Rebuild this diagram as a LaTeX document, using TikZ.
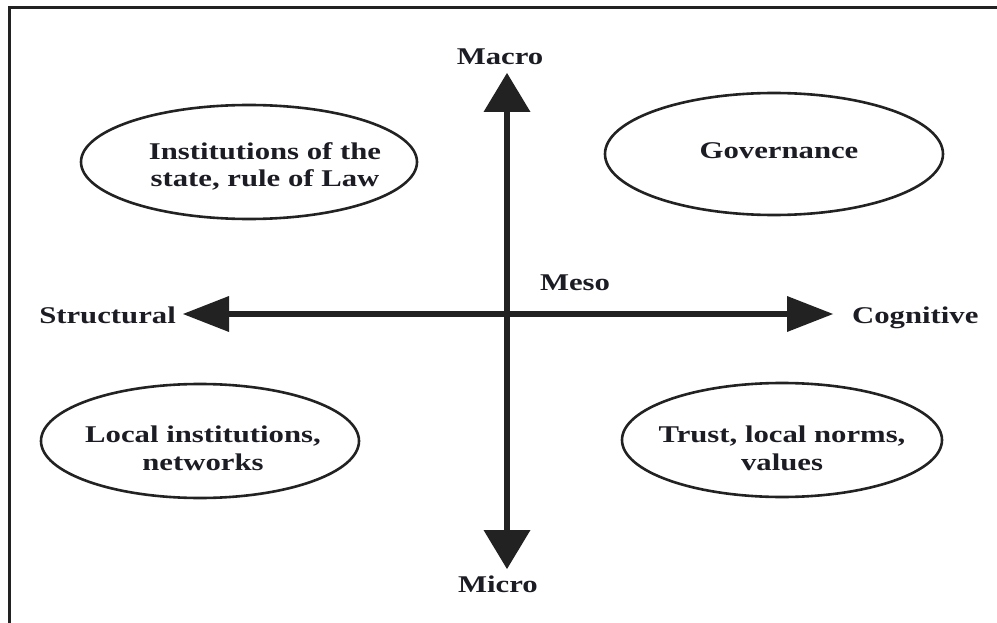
\documentclass[tikz,border=0pt]{standalone}
\usepackage{fontspec}
\setmainfont{Liberation Serif}[FakeStretch=1.28]
\usetikzlibrary{arrows.meta,shapes.geometric}
\definecolor{ink}{HTML}{222222}
\definecolor{txt}{HTML}{1C1C24}
\begin{document}
\begin{tikzpicture}[x=1pt,y=-1pt,
  lbl/.style={font=\fontsize{24}{27.5}\selectfont\bfseries, text=txt, inner sep=0pt, align=center},
  oval/.style={ellipse, draw=ink, line width=2.6pt, inner sep=0pt},
  axisline/.style={draw=ink, line width=6.5pt},
  vtip/.style={{Triangle[length=39pt,width=47pt,line width=0pt]}-{Triangle[length=39pt,width=47pt,line width=0pt]}},
  htip/.style={{Triangle[length=46pt,width=36pt,line width=0pt]}-{Triangle[length=46pt,width=36pt,line width=0pt]}}
]
\useasboundingbox (0,0) rectangle (997,623);
\fill[white] (0,0) rectangle (997,623);
% frame (top and left edges)
\draw[ink, line width=3pt] (997,8) -- (9,8) -- (9,623);

% ellipses
\node[oval, minimum width=336pt, minimum height=114pt] (e1) at (249,162) {};
\node[oval, minimum width=338pt, minimum height=122pt] (e2) at (774,154) {};
\node[oval, minimum width=318pt, minimum height=114pt] (e3) at (200,441) {};
\node[oval, minimum width=320pt, minimum height=114pt] (e4) at (782,440) {};

% ellipse texts (base anchor = baseline of last line)
\node[lbl, anchor=base] (t1) at (265,187) {Institutions of the\\state, rule of Law};
\node[lbl, anchor=base] (t2) at (779,159) {Governance};
\node[lbl, anchor=base] (t3) at (203,470) {Local institutions,\\networks};
\node[lbl, anchor=base] (t4) at (782,470) {Trust, local norms,\\values};

% axes
\coordinate (vtop) at (507,73);
\coordinate (vbot) at (507,569);
\coordinate (hleft) at (183,314);
\coordinate (hright) at (833,314);
\draw[axisline, vtip] (vtop) -- (vbot);
\draw[axisline, htip] (hleft) -- (hright);

% axis labels
\node[lbl, anchor=base] (macro) at (500,65) {Macro};
\node[lbl, anchor=base] (micro) at (498,592) {Micro};
\node[lbl, anchor=base east] (struct) at (176,323) {Structural};
\node[lbl, anchor=base west] (cogn) at (852,323) {Cognitive};
\node[lbl, anchor=base] (meso) at (575,290) {Meso};
\end{tikzpicture}
\end{document}
